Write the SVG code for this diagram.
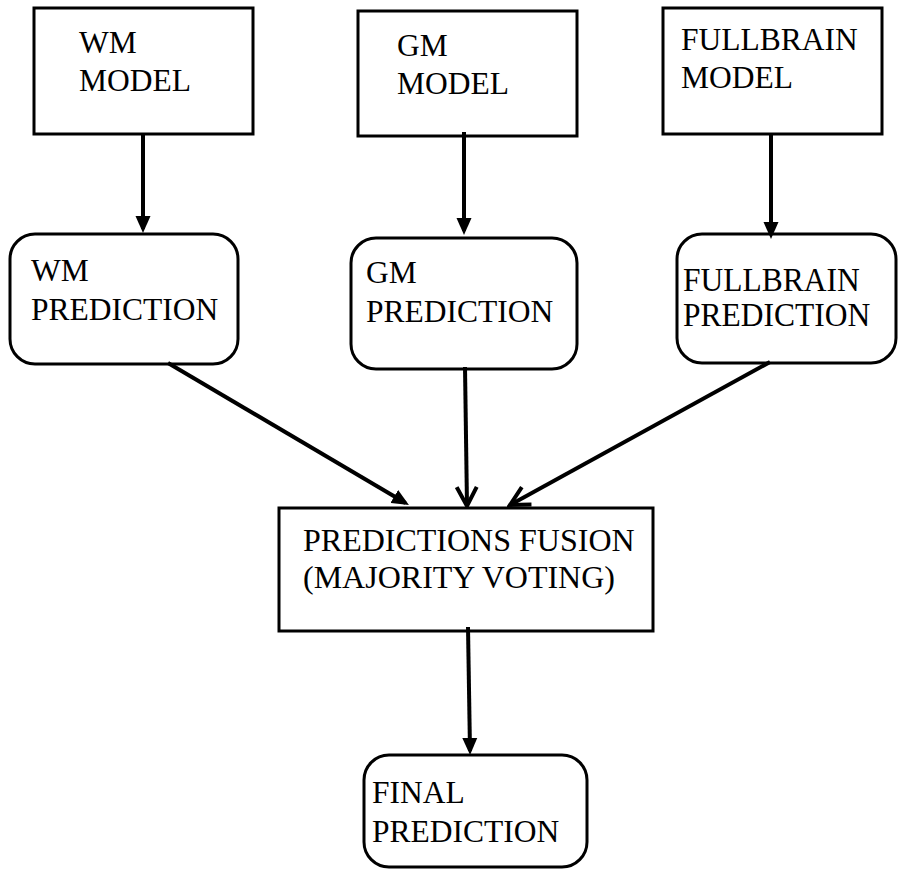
<svg xmlns="http://www.w3.org/2000/svg" width="898" height="871" viewBox="0 0 898 871">
<style>
  .box { fill: #ffffff; stroke: #000000; stroke-width: 3; }
  .lbl { font-family: "Liberation Serif", "Times New Roman", serif; font-size: 31.5px; fill: #000000; }
  .con { stroke: #000000; stroke-width: 4; fill: none; }
</style>
<defs>
  <marker id="fill" markerUnits="userSpaceOnUse" viewBox="0 0 17 16" markerWidth="17" markerHeight="16" refX="13" refY="8" orient="auto">
    <path d="M0,0.5 L17,8 L0,15.5 z" fill="#000000"/>
  </marker>
  <marker id="open" markerUnits="userSpaceOnUse" viewBox="0 0 24 24" markerWidth="24" markerHeight="24" refX="21" refY="12" orient="auto">
    <path d="M2,2 L21,12 L2,22" fill="none" stroke="#000000" stroke-width="4"/>
  </marker>
</defs>
<rect width="898" height="871" fill="#ffffff"/>

<g id="wm-model">
  <rect class="box" x="34" y="8" width="219" height="126"/>
  <text class="lbl" x="79" y="53">WM</text>
  <text class="lbl" x="79" y="91">MODEL</text>
</g>
<g id="gm-model">
  <rect class="box" x="358" y="11" width="219" height="125"/>
  <text class="lbl" x="397" y="56">GM</text>
  <text class="lbl" x="397" y="94">MODEL</text>
</g>
<g id="fullbrain-model">
  <rect class="box" x="663" y="8" width="219" height="126"/>
  <text class="lbl" x="681" y="50">FULLBRAIN</text>
  <text class="lbl" x="681" y="88">MODEL</text>
</g>

<g id="wm-prediction">
  <rect class="box" x="10" y="234" width="228" height="130" rx="25" ry="25"/>
  <text class="lbl" x="31" y="281">WM</text>
  <text class="lbl" x="31" y="320">PREDICTION</text>
</g>
<g id="gm-prediction">
  <rect class="box" x="351" y="238" width="226" height="131" rx="25" ry="25"/>
  <text class="lbl" x="366" y="283">GM</text>
  <text class="lbl" x="366" y="322">PREDICTION</text>
</g>
<g id="fullbrain-prediction">
  <rect class="box" x="677" y="234" width="219" height="129" rx="25" ry="25"/>
  <text class="lbl" transform="translate(683,291) scale(1,1.1)">FULLBRAIN</text>
  <text class="lbl" transform="translate(683,326) scale(1,1.1)">PREDICTION</text>
</g>

<g id="fusion">
  <rect class="box" x="279" y="508" width="374" height="123"/>
  <text class="lbl" x="303" y="551" style="font-size:32px">PREDICTIONS FUSION</text>
  <text class="lbl" x="303" y="588" style="font-size:32px">(MAJORITY VOTING)</text>
</g>

<g id="final-prediction">
  <rect class="box" x="364" y="755" width="223" height="112" rx="25" ry="25"/>
  <text class="lbl" x="372" y="803">FINAL</text>
  <text class="lbl" x="372" y="842">PREDICTION</text>
</g>

<g id="connectors">
  <line class="con" x1="143" y1="134" x2="143" y2="229" marker-end="url(#fill)"/>
  <line class="con" x1="464" y1="132" x2="464" y2="231" marker-end="url(#fill)"/>
  <line class="con" x1="771" y1="134" x2="771" y2="235" marker-end="url(#fill)"/>
  <line class="con" x1="168" y1="363" x2="405.5" y2="503" marker-end="url(#fill)"/>
  <line class="con" x1="465" y1="367" x2="467" y2="506" marker-end="url(#open)"/>
  <line class="con" x1="770" y1="362" x2="510" y2="505" marker-end="url(#open)"/>
  <line class="con" x1="468" y1="627" x2="470" y2="751" marker-end="url(#fill)"/>
</g>
</svg>
